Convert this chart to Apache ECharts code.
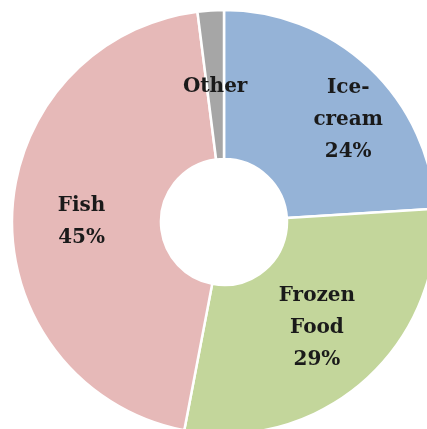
<!DOCTYPE html>
<html>
<head>
<meta charset="utf-8">
<script src="https://cdn.jsdelivr.net/npm/echarts@6/dist/echarts.min.js"></script>
<style>
html,body{margin:0;padding:0;background:#fff;}
#chart{width:427px;height:429px;}
</style>
</head>
<body>
<div id="chart"></div>
<script>
var categories = ['Ice-cream', 'Frozen Food', 'Fish', 'Other'];
var labelTexts = ['Ice-\ncream\n24%', 'Frozen\nFood\n29%', 'Fish\n45%', 'Other'];
var values = [24, 29, 45, 2];
var colors = ['#95B3D7', '#C3D69B', '#E6B9B8', '#A6A6A6'];

var chart = echarts.init(document.getElementById('chart'), null, {renderer: 'canvas'});
var data = categories.map(function (c, i) {
  return {
    name: c,
    value: values[i],
    itemStyle: {color: colors[i]},
    label: {formatter: labelTexts[i]}
  };
});
chart.setOption({
  animation: false,
  backgroundColor: '#ffffff',
  series: [{
    type: 'pie',
    center: [224, 222],
    radius: [63, 212],
    startAngle: 90,
    clockwise: true,
    avoidLabelOverlap: false,
    data: data,
    itemStyle: {borderColor: '#ffffff', borderWidth: 2.5},
    label: {
      show: true,
      position: 'inside',
      fontFamily: '"DejaVu Serif", "Liberation Serif", serif',
      fontWeight: 'bold',
      fontSize: 20,
      lineHeight: 32,
      color: '#1a1a1a',
      align: 'center'
    },
    labelLine: {show: false},
    labelLayout: function (params) {
      if (params.dataIndex === 0) return {dx: 28, dy: 0};
      if (params.dataIndex === 2) return {dx: -2, dy: 4};
      if (params.dataIndex === 3) return {dx: 0, dy: 5};
      return {};
    },
    emphasis: {disabled: true}
  }]
});
</script>
</body>
</html>
